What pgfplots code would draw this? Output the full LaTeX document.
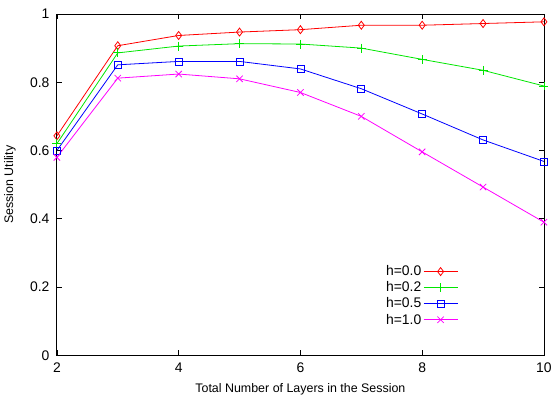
\documentclass[border=0pt]{standalone}
\usepackage{fontspec}
\setmainfont{Liberation Sans}
\usepackage{pgfplots}
\pgfplotsset{compat=1.18}
\definecolor{gpred}{RGB}{255,0,0}
\definecolor{gpgreen}{RGB}{0,230,0}
\definecolor{gpblue}{RGB}{0,0,255}
\definecolor{gpmag}{RGB}{255,0,255}
\begin{document}
\begin{tikzpicture}
\begin{axis}[scale only axis, width=488bp, height=342bp,
  xmin=2, xmax=10, ymin=0, ymax=1,
  xtick={2,4,6,8,10}, ytick={0,0.2,0.4,0.6,0.8,1},
  yticklabels={0,0.2,0.4,0.6,0.8,1},
  tick align=inside, tick pos=both, major tick length=5bp,
  tick style={black, line width=0.6pt},
  axis line style={line width=0.8pt},
  /pgf/number format/assume math mode=true,
  tick label style={font=\fontsize{14}{16}\selectfont},
  xticklabel style={anchor=center, yshift=-12bp},
  yticklabel style={anchor=east, xshift=-4bp},
  label style={font=\fontsize{12.5}{14}\selectfont},
  xlabel={Total Number of Layers in the Session},
  ylabel={Session Utility},
  xlabel style={at={(rel axis cs:0.5,0)}, anchor=center, yshift=-34bp},
  ylabel style={at={(rel axis cs:0,0.5)}, anchor=center, yshift=47bp},
  every axis plot/.append style={line width=0.8pt},
  legend plot pos=right, legend cell align=right,
  legend image code/.code={\draw[mark repeat=2, mark phase=2, #1] plot coordinates {(0bp,0bp) (17bp,0bp) (34bp,0bp)};},
  legend style={at={(0.83,0.075)}, anchor=south east, draw=none, fill=none,
    font=\fontsize{14}{16}\selectfont, row sep=0.5bp},
]
\coordinate (sw) at (rel axis cs:0,0);
\coordinate (ne) at (rel axis cs:1,1);
\addplot[color=gpred, mark=diamond, mark size=4bp] coordinates {(2,0.643)(3,0.907)(4,0.937)(5,0.947)(6,0.954)(7,0.967)(8,0.967)(9,0.972)(10,0.977)};
\addlegendentry{h=0.0}
\addplot[color=gpgreen, mark=+, mark size=4.5bp] coordinates {(2,0.620)(3,0.886)(4,0.906)(5,0.913)(6,0.912)(7,0.900)(8,0.867)(9,0.835)(10,0.789)};
\addlegendentry{h=0.2}
\addplot[color=gpblue, mark=square, mark size=3.5bp] coordinates {(2,0.600)(3,0.851)(4,0.861)(5,0.861)(6,0.839)(7,0.781)(8,0.707)(9,0.631)(10,0.568)};
\addlegendentry{h=0.5}
\addplot[color=gpmag, mark=x, mark size=4.5bp] coordinates {(2,0.580)(3,0.812)(4,0.824)(5,0.810)(6,0.770)(7,0.700)(8,0.596)(9,0.493)(10,0.390)};
\addlegendentry{h=1.0}
\end{axis}
\path ([shift={(-57bp,-49bp)}]sw) ([shift={(10bp,14bp)}]ne);
\end{tikzpicture}
\end{document}
